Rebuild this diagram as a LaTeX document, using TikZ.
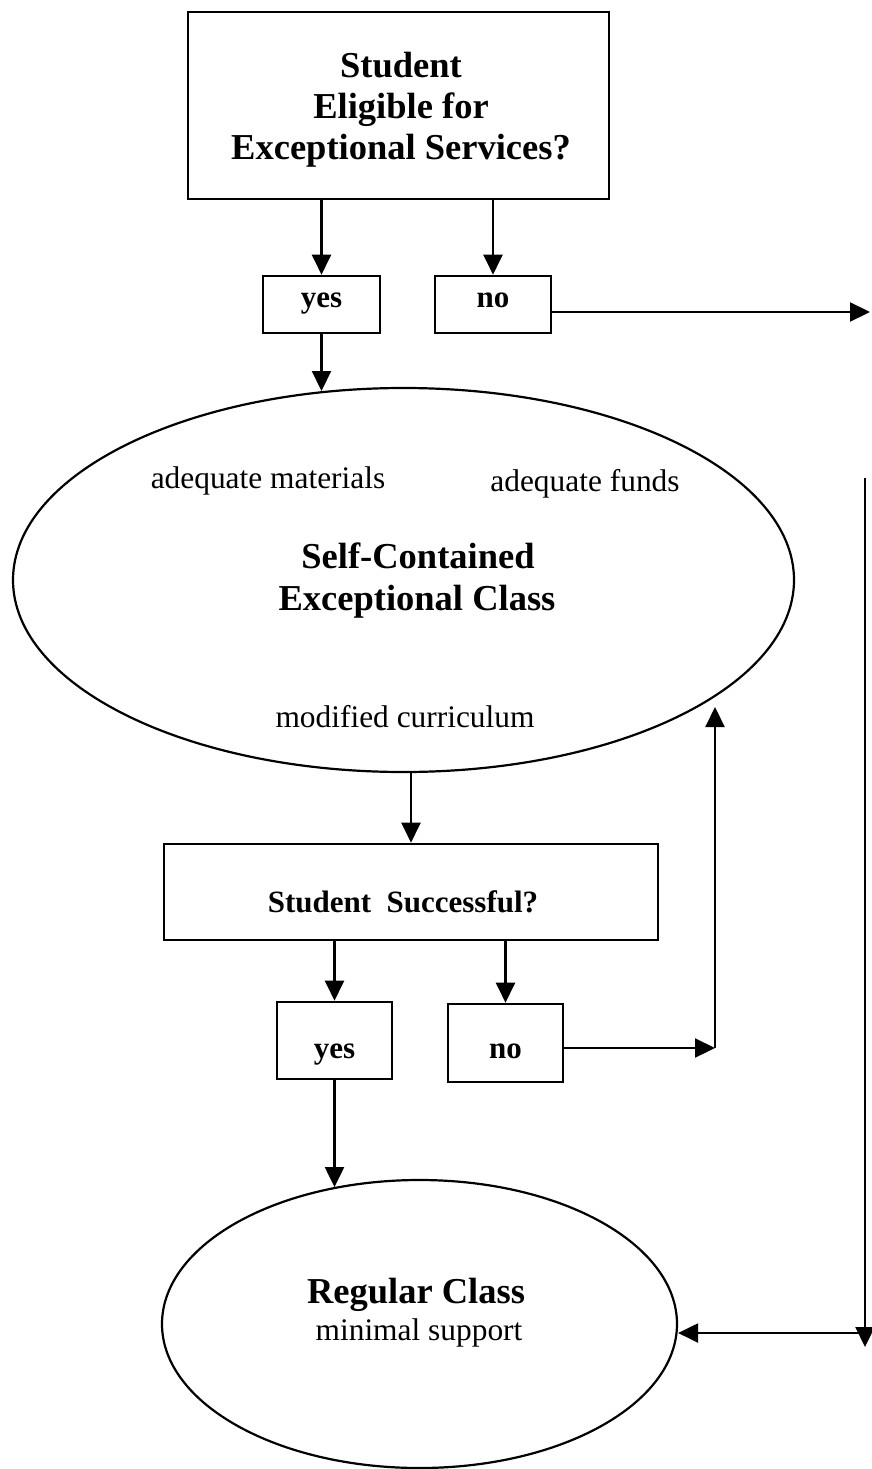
\documentclass[tikz,border=0pt]{standalone}
\usepackage{fontspec}
\setmainfont{Liberation Serif}
\usetikzlibrary{arrows.meta,shapes.geometric}
\begin{document}
\begin{tikzpicture}[x=1pt,y=-1pt,
  box/.style={draw, line width=2.6pt, inner sep=0pt},
  oval/.style={draw, ellipse, line width=2.2pt, inner sep=0pt},
  arr/.style={line width=2.2pt, -{Triangle[length=20pt,width=19pt]}},
  bigb/.style={font=\fontsize{36.5}{41}\selectfont\bfseries, align=center},
  smallb/.style={font=\fontsize{31}{35}\selectfont\bfseries},
  normtxt/.style={font=\fontsize{31.4}{35}\selectfont}
]
\useasboundingbox (0,0) rectangle (871,1469);

% top decision
\node[box, minimum width=421pt, minimum height=187pt] (top) at (398.5,105.5) {};
\node[bigb, anchor=base] (ttl) at (401,160) {Student\\Eligible for\\Exceptional Services?};

\node[box, smallb, minimum width=117pt, minimum height=57pt, text height=14pt, text depth=9pt] (yes1) at (321.5,304.5) {yes};
\node[box, smallb, minimum width=116pt, minimum height=57pt, text height=14pt, text depth=9pt] (no1) at (493,304.5) {no};

% self-contained class
\node[oval, minimum width=781pt, minimum height=384pt] (big) at (403.5,580) {};
\node[normtxt, anchor=base] (t1) at (268,488) {adequate materials};
\node[normtxt, anchor=base] (t2) at (585,491) {adequate funds};
\node[bigb, anchor=base] (t3) at (418,568) {Self-Contained};
\node[bigb, anchor=base] (t4) at (417,610) {Exceptional Class};
\node[normtxt, anchor=base] (t5) at (405,727) {modified curriculum};

% second decision
\node[box, minimum width=494pt, minimum height=96pt] (ss) at (411,892) {};
\node[smallb, anchor=base] (sst) at (403,912) {Student\ \ Successful?};

\node[box, smallb, minimum width=115pt, minimum height=77pt, text height=38pt, text depth=3pt] (yes2) at (334.5,1040.5) {yes};
\node[box, smallb, minimum width=115pt, minimum height=78pt, text height=33pt, text depth=3pt] (no2) at (505.5,1043) {no};

% regular class
\node[oval, minimum width=515pt, minimum height=288pt] (rc) at (419.5,1324) {};
\node[bigb, anchor=base] (rct) at (416,1303) {Regular Class};
\node[normtxt, anchor=base] (rcs) at (419,1340) {minimal support};

% connectors
\draw[arr] (yes1.north |- top.south) -- (yes1.north);
\draw[arr] (no1.north |- top.south) -- (no1.north);
\coordinate (noTip) at (870,312);
\draw[arr] (no1.east |- noTip) -- (noTip);
\draw[arr] (yes1.south) -- (yes1.south |- big.113.2);

\draw[arr] (ss.north |- big.south) -- (ss.north);
\draw[arr] (yes2.north |- ss.south) -- (yes2.north);
\draw[arr] (no2.north |- ss.south) -- (no2.north);

\coordinate (c1) at (715,1048);
\coordinate (c2) at (715,707);
\draw[arr] (no2.east |- c1) -- (c1);
\draw[arr] (c1) -- (c2);

\draw[arr] (yes2.south) -- (yes2.south |- rc.122);

\coordinate (r1) at (865,478);
\coordinate (r2) at (865,1347);
\coordinate (r3) at (865,1333);
\draw[arr] (r1) -- (r2);
\draw[arr] (r3) -- (r3 -| rc.east);
\end{tikzpicture}
\end{document}
